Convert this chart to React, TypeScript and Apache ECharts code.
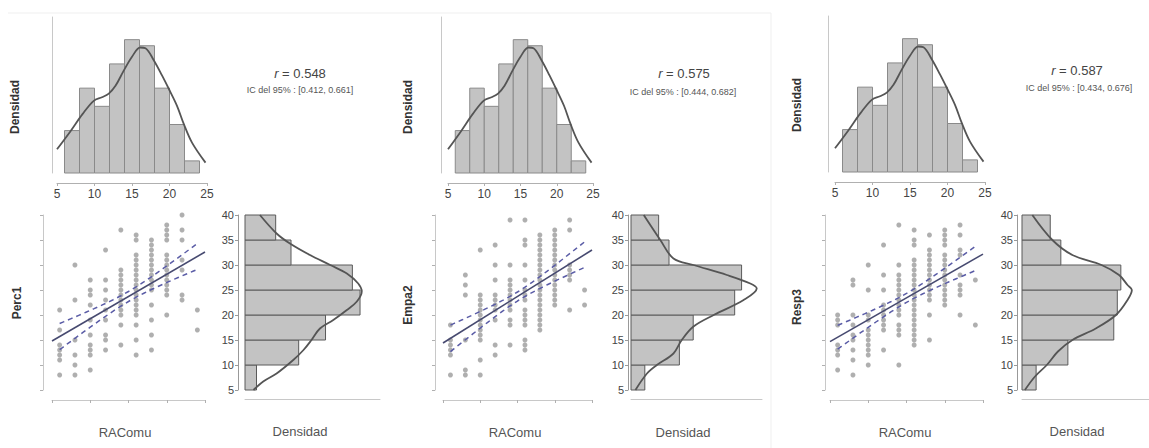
import React, { useEffect, useRef } from "react";
import * as echarts from "echarts";

// ---------- DATA ----------
const racomuLevels = [6, 8, 10, 12, 14, 16, 18, 20, 22, 24];
const racomuBinEdges = [6, 8, 10, 12, 14, 16, 18, 20, 22, 24];
const racomuCounts = [7, 14, 11, 18, 22, 21, 14, 8, 2];
const racomuDensX = [5.0, 6.8, 8.4, 9.9, 11.0, 11.9, 12.8, 13.9, 15.0, 16.1, 16.8, 17.9, 19.0, 19.9, 21.0, 21.9, 23.0, 24.8];
const racomuDensY = [0.0167, 0.0295, 0.0415, 0.0509, 0.0534, 0.056, 0.0615, 0.0722, 0.082, 0.0885, 0.088, 0.0795, 0.0688, 0.0594, 0.0474, 0.0346, 0.0214, 0.0073];
const topTickValues = [5, 10, 15, 20, 25];

const scoreBinEdges = [5, 10, 15, 20, 25, 30, 35, 40];
const scoreTickValues = [5, 10, 15, 20, 25, 30, 35, 40];

const perc1Counts = [3, 14, 21, 30, 28, 12, 8];
const perc1DensPos = [5, 6.7, 8.3, 11, 13, 15, 17.3, 19, 21, 22.7, 24.7, 26.3, 28.3, 30, 32, 34.3, 36.3, 40];
const perc1DensVal = [0.0038, 0.0082, 0.0142, 0.0217, 0.0263, 0.0299, 0.0337, 0.0397, 0.0458, 0.0503, 0.0525, 0.0509, 0.0458, 0.0383, 0.0292, 0.0202, 0.0142, 0.0067];
const perc1ByLevel = [
  [21, 17, 14, 13, 12, 11, 8],
  [30, 23, 15, 12, 10, 8],
  [27, 25, 24, 22, 19, 16, 14, 13, 12, 9],
  [33, 27, 25, 23, 21, 19, 16, 15, 13],
  [37, 29, 28, 27, 26, 25, 24, 23, 22, 21, 20, 18, 14],
  [36, 35, 32, 31, 30, 29, 28, 27, 26, 25, 24, 23, 22, 21, 20, 18, 15, 12],
  [35, 34, 33, 32, 31, 30, 29, 28, 27, 26, 25, 22, 19, 16, 13],
  [38, 37, 36, 35, 32, 31, 30, 29, 28, 27, 26, 25, 24, 20],
  [40, 37, 35, 31, 29, 24, 23],
  [21, 17],
];
const perc1Reg = [10.35, 0.89]; // intercept, slope
const perc1CiHalf = [1.0, 2.6]; // at mean, at data edge

const empa2Counts = [4, 14, 18, 30, 32, 11, 8];
const empa2DensPos = [5, 8.3, 10, 12.3, 15, 17.7, 20, 23, 25.3, 26.3, 28, 30, 31.3, 35, 40];
const empa2DensVal = [0.0022, 0.0079, 0.0128, 0.021, 0.0251, 0.0309, 0.0409, 0.0557, 0.0622, 0.059, 0.0474, 0.0309, 0.021, 0.0145, 0.0063];
const empa2ByLevel = [
  [18, 15, 14, 13, 12, 8],
  [28, 26, 24, 15, 9, 8],
  [33, 24, 23, 22, 21, 20, 19, 18, 17, 16, 15, 11, 8],
  [34, 30, 27, 24, 23, 22, 21, 19, 14, 12],
  [39, 30, 27, 26, 25, 24, 23, 22, 21, 19, 18, 14],
  [39, 35, 34, 30, 27, 25, 24, 23, 21, 20, 19, 18, 15, 14, 13],
  [36, 35, 34, 33, 32, 31, 30, 29, 28, 27, 26, 25, 24, 23, 22, 21, 20, 19, 18, 17],
  [37, 36, 35, 34, 33, 32, 31, 30, 29, 28, 27, 26, 25, 24, 23, 22],
  [39, 37, 30, 29, 28, 27, 21],
  [25, 22],
];
const empa2Reg = [9.75, 0.93];
const empa2CiHalf = [0.9, 2.6];

const resp3Counts = [4, 13, 26, 27, 28, 11, 8];
const resp3DensPos = [5, 7.7, 10, 12.7, 15, 17.3, 20, 23, 25, 26, 28, 30, 32, 35, 40];
const resp3DensVal = [0.0014, 0.0063, 0.012, 0.0174, 0.0244, 0.0357, 0.0455, 0.0511, 0.0532, 0.0511, 0.047, 0.0385, 0.0244, 0.0147, 0.005];
const resp3ByLevel = [
  [20, 19, 18, 14, 13, 12, 9],
  [27, 26, 20, 18, 16, 15, 13, 11, 8],
  [30, 25, 20, 19, 17, 16, 15, 14, 13, 12, 10],
  [34, 28, 25, 22, 21, 20, 19, 18, 17, 13],
  [38, 30, 28, 27, 26, 25, 24, 23, 22, 21, 20, 18, 17, 16, 10],
  [37, 35, 34, 31, 30, 29, 28, 27, 26, 25, 24, 23, 22, 21, 20, 19, 18, 17, 16, 15, 14],
  [36, 33, 32, 31, 30, 29, 28, 27, 26, 25, 24, 23, 20, 15],
  [37, 36, 35, 34, 32, 31, 30, 29, 28, 27, 26, 25, 24, 23, 22],
  [38, 36, 33, 32, 28, 26, 25, 24, 20],
  [27, 18],
];
const resp3Reg = [10.3, 0.875];
const resp3CiHalf = [0.9, 2.4];

const variableNames = ["Perc1", "Empa2", "Resp3"];
const rValues = ["0.548", "0.575", "0.587"];
const ciTexts = ["[0.412, 0.661]", "[0.444, 0.682]", "[0.434, 0.676]"];

// ---------- LAYOUT ----------
const FONT = "'Liberation Sans', Arial, sans-serif";
const layouts = [
  {
    top: { left: 57, width: 150, top: 17, height: 156, yOff: 5 },
    sc: { left: 52, width: 153, top: 215, height: 175, xOff: 10, yOff: 9 },
    rh: { left: 245, width: 135, top: 215, height: 175, xOff: 9, yOff: 7, xMax: 0.0607 },
    topDens: [15, 107], yl: [17, 303], raco: [125, 432], dens: [300, 431], r: [300, 73], ic: [300, 90],
  },
  {
    top: { left: 448, width: 145, top: 17, height: 156, yOff: 7 },
    sc: { left: 443, width: 149, top: 215, height: 175, xOff: 10, yOff: 8 },
    rh: { left: 631, width: 131, top: 215, height: 175, xOff: 9, yOff: 3, xMax: 0.0648 },
    topDens: [408, 107], yl: [408, 305], raco: [515, 432], dens: [683, 432], r: [684, 73], ic: [683, 92],
  },
  {
    top: { left: 835, width: 150, top: 16, height: 156, yOff: 7 },
    sc: { left: 830, width: 153, top: 215, height: 175, xOff: 10, yOff: 5 },
    rh: { left: 1022, width: 146, top: 215, height: 175, xOff: 9, yOff: 5, xMax: 0.0615 },
    topDens: [797, 105], yl: [797, 307], raco: [905, 432], dens: [1077, 431], r: [1077, 70], ic: [1079, 88],
  },
];

const panelData = [
  { counts: perc1Counts, densPos: perc1DensPos, densVal: perc1DensVal, byLevel: perc1ByLevel, reg: perc1Reg, ci: perc1CiHalf },
  { counts: empa2Counts, densPos: empa2DensPos, densVal: empa2DensVal, byLevel: empa2ByLevel, reg: empa2Reg, ci: empa2CiHalf },
  { counts: resp3Counts, densPos: resp3DensPos, densVal: resp3DensVal, byLevel: resp3ByLevel, reg: resp3Reg, ci: resp3CiHalf },
];

function buildOption() {
  const grid: any[] = [];
  const xAxis: any[] = [];
  const yAxis: any[] = [];
  const series: any[] = [];
  const graphic: any[] = [];

  const racTotal = racomuCounts.reduce((a, b) => a + b, 0);
  const topHistData = racomuCounts.map((c, k) => {
    const lo = racomuBinEdges[k];
    const hi = racomuBinEdges[k + 1];
    return [lo, hi, c / (racTotal * (hi - lo))];
  });
  const topCurve = racomuDensX.map((x, k) => [x, racomuDensY[k]]);

  const faintLine = { lineStyle: { color: "#c8c8c8", width: 1 } };

  layouts.forEach((L, i) => {
    const P = panelData[i];
    const gTop = i * 3;
    const gSc = i * 3 + 1;
    const gRh = i * 3 + 2;

    grid.push({ left: L.top.left, top: L.top.top, width: L.top.width, height: L.top.height });
    grid.push({ left: L.sc.left, top: L.sc.top, width: L.sc.width, height: L.sc.height });
    grid.push({ left: L.rh.left, top: L.rh.top, width: L.rh.width, height: L.rh.height });

    // top histogram axes
    xAxis.push({
      type: "value", gridIndex: gTop, min: topTickValues[0], max: topTickValues[topTickValues.length - 1], interval: 5,
      offset: 10, axisLine: { onZero: false, lineStyle: { color: "#b0b0b0" } },
      axisTick: { length: 3, lineStyle: { color: "#b0b0b0" } },
      axisLabel: { fontSize: 12, color: "#444", margin: 5, fontFamily: FONT },
      splitLine: { show: false },
    });
    yAxis.push({
      type: "value", gridIndex: gTop, min: 0, max: 0.11, offset: L.top.yOff,
      axisLine: { show: true, onZero: false, ...faintLine }, axisTick: { show: false }, axisLabel: { show: false },
      splitLine: { show: false },
    });
    // scatter axes
    xAxis.push({
      type: "value", gridIndex: gSc, min: 5, max: 25, interval: 5, offset: L.sc.xOff,
      axisLine: { onZero: false, ...faintLine }, axisTick: { length: 3, lineStyle: { color: "#b0b0b0" } },
      axisLabel: { show: false }, splitLine: { show: false },
    });
    yAxis.push({
      type: "value", gridIndex: gSc, min: 5, max: 40, interval: 5, offset: L.sc.yOff,
      axisLine: { show: true, onZero: false, ...faintLine }, axisTick: { show: true, length: 3, lineStyle: { color: "#b0b0b0" } },
      axisLabel: { show: false }, splitLine: { show: false },
    });
    // right histogram axes
    xAxis.push({
      type: "value", gridIndex: gRh, min: 0, max: L.rh.xMax, offset: L.rh.xOff,
      axisLine: { onZero: false, ...faintLine }, axisTick: { show: false }, axisLabel: { show: false }, splitLine: { show: false },
    });
    yAxis.push({
      type: "value", gridIndex: gRh, min: scoreTickValues[0], max: scoreTickValues[scoreTickValues.length - 1], interval: 5, offset: L.rh.yOff,
      axisLine: { show: true, onZero: false, lineStyle: { color: "#999" } },
      axisTick: { show: true, length: 3, lineStyle: { color: "#999" } },
      axisLabel: { fontSize: 11, color: "#444", margin: 4, fontFamily: FONT }, splitLine: { show: false },
    });

    // top histogram
    series.push({
      type: "custom", xAxisIndex: gTop, yAxisIndex: gTop, data: topHistData, encode: { x: [0, 1], y: 2 },
      renderItem: (params: any, api: any) => {
        const p0 = api.coord([api.value(0), 0]);
        const p1 = api.coord([api.value(1), api.value(2)]);
        return {
          type: "rect",
          shape: { x: p0[0], y: p1[1], width: p1[0] - p0[0], height: p0[1] - p1[1] },
          style: { fill: "#c3c3c3", stroke: "#8a8a8a", lineWidth: 1 },
        };
      },
    });
    series.push({
      type: "line", xAxisIndex: gTop, yAxisIndex: gTop, data: topCurve, smooth: 0.35, showSymbol: false,
      lineStyle: { color: "#555", width: 1.8 }, z: 5,
    });

    // scatter
    const pts: number[][] = [];
    P.byLevel.forEach((ys, k) => ys.forEach((y) => pts.push([racomuLevels[k], y])));
    series.push({
      type: "scatter", xAxisIndex: gSc, yAxisIndex: gSc, data: pts, symbol: "circle", symbolSize: 5,
      itemStyle: { color: "#9b9b9b" },
    });
    const [b0, b1] = P.reg;
    series.push({
      type: "line", xAxisIndex: gSc, yAxisIndex: gSc, showSymbol: false, z: 4,
      data: [[5, b0 + b1 * 5], [25, b0 + b1 * 25]],
      lineStyle: { color: "#474a70", width: 1.6 },
    });
    const xs = pts.map((p) => p[0]);
    const xmin = Math.min(...xs);
    const xmax = Math.max(...xs);
    const xm = xs.reduce((a, b) => a + b, 0) / xs.length;
    const half = (xmax - xmin) / 2;
    const [hc, he] = P.ci;
    const up: number[][] = [];
    const lo: number[][] = [];
    for (let x = xmin; x <= xmax + 1e-9; x += 0.5) {
      const hw = hc * Math.sqrt(1 + ((x - xm) / half) ** 2 * ((he / hc) ** 2 - 1));
      const yh = b0 + b1 * x;
      up.push([x, yh + hw]);
      lo.push([x, yh - hw]);
    }
    [up, lo].forEach((d) =>
      series.push({
        type: "line", xAxisIndex: gSc, yAxisIndex: gSc, showSymbol: false, z: 4, data: d,
        lineStyle: { color: "#5a5ca6", width: 1.5, type: [5, 4] },
      })
    );

    // right histogram
    const tot = P.counts.reduce((a, b) => a + b, 0);
    const rhData = P.counts.map((c, k) => {
      const l = scoreBinEdges[k];
      const h = scoreBinEdges[k + 1];
      return [l, h, c / (tot * (h - l))];
    });
    series.push({
      type: "custom", xAxisIndex: gRh, yAxisIndex: gRh, data: rhData, encode: { y: [0, 1], x: 2 },
      renderItem: (params: any, api: any) => {
        const p0 = api.coord([0, api.value(0)]);
        const p1 = api.coord([api.value(2), api.value(1)]);
        return {
          type: "rect",
          shape: { x: p0[0], y: p1[1], width: p1[0] - p0[0], height: p0[1] - p1[1] },
          style: { fill: "#c3c3c3", stroke: "#5a5a5a", lineWidth: 1 },
        };
      },
    });
    series.push({
      type: "line", xAxisIndex: gRh, yAxisIndex: gRh, showSymbol: false, smooth: 0.35, z: 5,
      data: P.densPos.map((y, k) => [P.densVal[k], y]),
      lineStyle: { color: "#555", width: 1.8 },
    });

    // texts
    const txt = (pos: number[], text: string, size: number, color: string, rot = 0, weight = "normal") => ({
      type: "text", x: pos[0], y: pos[1], rotation: rot,
      style: { text, fontSize: size, fill: color, fontFamily: FONT, fontWeight: weight, align: "center", verticalAlign: "middle", textAlign: "center", textVerticalAlign: "middle" },
    });
    graphic.push(txt(L.topDens, "Densidad", 12, "#333", Math.PI / 2, "bold"));
    graphic.push(txt(L.yl, variableNames[i], 12, "#333", Math.PI / 2, "bold"));
    graphic.push(txt(L.raco, "RAComu", 13, "#555"));
    graphic.push(txt(L.dens, "Densidad", 13, "#555"));
    graphic.push({
      type: "text", x: L.r[0], y: L.r[1],
      style: {
        text: "{i|r} = " + rValues[i], fontSize: 13, fill: "#444", fontFamily: FONT,
        rich: { i: { fontStyle: "italic", fontSize: 13, fill: "#444", fontFamily: FONT } },
        align: "center", verticalAlign: "middle", textAlign: "center", textVerticalAlign: "middle",
      },
    });
    graphic.push(txt(L.ic, "IC del 95% : " + ciTexts[i], 9, "#555"));
  });

  graphic.push({ type: "line", shape: { x1: 8, y1: 13, x2: 771, y2: 13 }, style: { stroke: "#efefef", lineWidth: 1 } });
  graphic.push({ type: "line", shape: { x1: 771, y1: 13, x2: 771, y2: 448 }, style: { stroke: "#efefef", lineWidth: 1 } });

  return { animation: false, backgroundColor: "#ffffff", grid, xAxis, yAxis, series, graphic };
}

export default function App() {
  const ref = useRef<HTMLDivElement>(null);
  useEffect(() => {
    if (!ref.current) return;
    const chart = echarts.init(ref.current, null, { renderer: "svg" });
    chart.setOption(buildOption() as any);
    return () => chart.dispose();
  }, []);
  return <div ref={ref} style={{ position: "fixed", left: 0, top: 0, width: 1149, height: 448, background: "#fff" }} />;
}
